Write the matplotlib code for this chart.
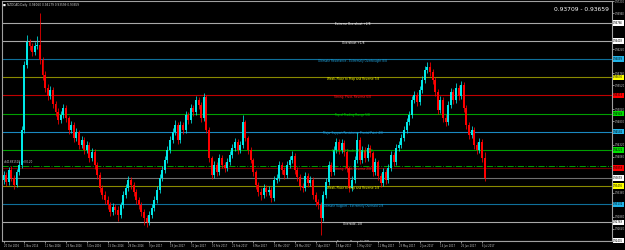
import numpy as np
import matplotlib
matplotlib.use('Agg')
import matplotlib.pyplot as plt
from matplotlib.ticker import FormatStrFormatter

# NZDCAD daily candles, 20 Oct 2016 .. 7 Jul 2017
closes = [
    .9372, .9358, .9382, .9366, .9352, .9378, .9392, .9462, .9592, .9638,
    .9630, .9618, .9630, .9632, .9602, .9572, .9546, .9530, .9542, .9514,
    .9498, .9482, .9492, .9506, .9486, .9462, .9472, .9446, .9458, .9432,
    .9442, .9422, .9432, .9406, .9418, .9392, .9372, .9346, .9332, .9322,
    .9312, .9298, .9308, .9302, .9292, .9312, .9332, .9346, .9362, .9352,
    .9338, .9322, .9312, .9298, .9286, .9278, .9292, .9306, .9322, .9342,
    .9366, .9382, .9402, .9422, .9442, .9458, .9472, .9442, .9472, .9462,
    .9492, .9482, .9506, .9498, .9522, .9512, .9486, .9528, .9462, .9406,
    .9372, .9392, .9378, .9406, .9392, .9386, .9398, .9412, .9426, .9438,
    .9422, .9432, .9478, .9446, .9422, .9402, .9378, .9352, .9338, .9332,
    .9346, .9338, .9342, .9326, .9362, .9366, .9392, .9382, .9372, .9392,
    .9402, .9410, .9382, .9368, .9350, .9346, .9370, .9356, .9362, .9332,
    .9318, .9312, .9286, .9332, .9358, .9392, .9378, .9422, .9438, .9422,
    .9436, .9418, .9386, .9346, .9362, .9402, .9442, .9402, .9422, .9406,
    .9426, .9416, .9378, .9398, .9370, .9356, .9378, .9362, .9386, .9412,
    .9398, .9426, .9432, .9446, .9462, .9478, .9492, .9522, .9532, .9518,
    .9542, .9562, .9582, .9588, .9578, .9562, .9538, .9502, .9522, .9486,
    .9478, .9512, .9538, .9522, .9546, .9530, .9552, .9506, .9472, .9452,
    .9462, .9432, .9422, .9438, .9406, .93659,
]
opens = [
    .9362, .9372, .9358, .9382, .9366, .9352, .9378, .9392, .9462, .9592,
    .9638, .9630, .9618, .9630, .9632, .9602, .9572, .9546, .9530, .9542,
    .9514, .9498, .9482, .9492, .9506, .9486, .9462, .9472, .9446, .9458,
    .9432, .9442, .9422, .9432, .9406, .9418, .9392, .9372, .9346, .9332,
    .9322, .9312, .9298, .9308, .9302, .9292, .9312, .9332, .9346, .9362,
    .9352, .9338, .9322, .9312, .9298, .9286, .9278, .9292, .9306, .9322,
    .9342, .9366, .9382, .9402, .9422, .9442, .9458, .9472, .9442, .9472,
    .9462, .9492, .9482, .9506, .9498, .9522, .9512, .9486, .9528, .9462,
    .9406, .9372, .9392, .9378, .9406, .9392, .9386, .9398, .9412, .9426,
    .9438, .9422, .9432, .9478, .9446, .9422, .9402, .9378, .9352, .9338,
    .9332, .9346, .9338, .9342, .9326, .9362, .9366, .9392, .9382, .9372,
    .9392, .9402, .9410, .9382, .9368, .9350, .9346, .9370, .9356, .9362,
    .9332, .9318, .9312, .9286, .9332, .9358, .9392, .9378, .9422, .9438,
    .9422, .9436, .9418, .9386, .9346, .9362, .9402, .9442, .9402, .9422,
    .9406, .9426, .9416, .9378, .9398, .9370, .9356, .9378, .9362, .9386,
    .9412, .9398, .9426, .9432, .9446, .9462, .9478, .9492, .9522, .9532,
    .9518, .9542, .9562, .9582, .9588, .9578, .9562, .9538, .9502, .9522,
    .9486, .9478, .9512, .9538, .9522, .9546, .9530, .9552, .9506, .9472,
    .9452, .9462, .9432, .9422, .9438, .9406,
]
highs = [
    .9380, .9378, .9388, .9390, .9372, .9384, .9400, .9470, .9600, .9652,
    .9644, .9636, .9638, .9650, .9696, .9608, .9580, .9554, .9550, .9548,
    .9520, .9506, .9500, .9514, .9512, .9490, .9480, .9478, .9466, .9462,
    .9450, .9448, .9440, .9438, .9426, .9424, .9398, .9378, .9352, .9340,
    .9330, .9318, .9316, .9314, .9310, .9318, .9340, .9354, .9370, .9368,
    .9358, .9344, .9328, .9318, .9304, .9292, .9300, .9314, .9330, .9350,
    .9374, .9390, .9410, .9430, .9450, .9466, .9482, .9478, .9480, .9478,
    .9500, .9498, .9514, .9512, .9530, .9528, .9518, .9536, .9532, .9468,
    .9410, .9400, .9398, .9414, .9412, .9398, .9406, .9420, .9434, .9446,
    .9444, .9440, .9492, .9482, .9450, .9428, .9406, .9382, .9358, .9346,
    .9354, .9352, .9350, .9348, .9370, .9374, .9400, .9398, .9388, .9400,
    .9410, .9420, .9416, .9388, .9374, .9356, .9378, .9376, .9370, .9368,
    .9338, .9324, .9318, .9340, .9366, .9400, .9398, .9430, .9446, .9444,
    .9444, .9442, .9422, .9390, .9370, .9410, .9458, .9448, .9430, .9428,
    .9434, .9432, .9420, .9406, .9402, .9376, .9386, .9384, .9394, .9420,
    .9418, .9434, .9440, .9454, .9470, .9486, .9500, .9530, .9540, .9538,
    .9550, .9570, .9590, .9598, .9598, .9584, .9568, .9544, .9530, .9528,
    .9494, .9520, .9546, .9544, .9556, .9552, .9560, .9558, .9512, .9478,
    .9470, .9468, .9438, .9446, .9444, .94179,
]
lows = [
    .9354, .9350, .9352, .9360, .9344, .9348, .9372, .9386, .9456, .9586,
    .9622, .9610, .9612, .9624, .9594, .9562, .9538, .9522, .9524, .9506,
    .9490, .9474, .9476, .9486, .9478, .9454, .9456, .9438, .9440, .9424,
    .9426, .9414, .9416, .9398, .9400, .9384, .9364, .9338, .9324, .9314,
    .9304, .9290, .9292, .9294, .9280, .9286, .9306, .9326, .9340, .9344,
    .9330, .9314, .9304, .9290, .9272, .9268, .9272, .9286, .9300, .9316,
    .9336, .9360, .9376, .9396, .9416, .9436, .9452, .9434, .9436, .9454,
    .9456, .9474, .9476, .9490, .9492, .9504, .9478, .9480, .9456, .9398,
    .9364, .9366, .9370, .9372, .9386, .9378, .9380, .9392, .9406, .9420,
    .9414, .9416, .9426, .9440, .9414, .9396, .9370, .9344, .9330, .9322,
    .9326, .9330, .9332, .9318, .9320, .9356, .9360, .9374, .9364, .9366,
    .9386, .9396, .9374, .9360, .9342, .9338, .9340, .9348, .9350, .9324,
    .9310, .9304, .9252, .9280, .9326, .9352, .9370, .9372, .9416, .9414,
    .9416, .9410, .9378, .9338, .9340, .9356, .9396, .9394, .9396, .9398,
    .9400, .9408, .9370, .9372, .9362, .9348, .9350, .9354, .9356, .9380,
    .9390, .9392, .9420, .9426, .9440, .9456, .9472, .9486, .9516, .9510,
    .9512, .9536, .9556, .9576, .9570, .9554, .9530, .9494, .9496, .9478,
    .9470, .9472, .9506, .9514, .9516, .9522, .9524, .9498, .9464, .9444,
    .9446, .9424, .9414, .9416, .9398, .93599,
]
date_labels = [
    '20 Oct 2016', '1 Nov 2016', '11 Nov 2016', '23 Nov 2016', '5 Dec 2016',
    '15 Dec 2016', '28 Dec 2016', '9 Jan 2017', '19 Jan 2017', '31 Jan 2017',
    '10 Feb 2017', '22 Feb 2017', '6 Mar 2017', '16 Mar 2017', '28 Mar 2017',
    '7 Apr 2017', '19 Apr 2017', '1 May 2017', '11 May 2017', '23 May 2017',
    '2 Jun 2017', '14 Jun 2017', '26 Jun 2017', '6 Jul 2017',
]

# Murrey math levels, -2/8 .. +2/8
levels = [0.92405, 0.92769, 0.93132, 0.93496, 0.93859, 0.94222, 0.94586,
          0.94949, 0.95313, 0.95676, 0.96039, 0.96403, 0.96766]
level_names = [
    'Extreme Oversold -2/8', 'Oversold -1/8',
    'Ultimate Support - Extremely Oversold 0/8',
    'Weak, Place to Stop and Reverse 1/8', 'Strong, Pivot, Reverse 2/8',
    'Bottom of Trading Range 3/8', 'Major Support/Resistance Pivotal Point 4/8',
    'Top of Trading Range 5/8', 'Strong, Pivot, Reverse 6/8',
    'Weak, Place to Stop and Reverse 7/8',
    'Ultimate Resistance - Extremely Overbought 8/8',
    'Overshoot +1/8', 'Extreme Overshoot +2/8',
]
line_colors = ['#a8a8a8', '#a8a8a8', '#0f6f9a', '#8a8a00', '#6a0000', '#00a000',
               '#1a88c0', '#00a000', '#c00000', '#8a8a00', '#0f6f9a',
               '#a8a8a8', '#a8a8a8']
text_colors = ['#ffffff', '#ffffff', '#1fa0d8', '#ffff00', '#ff2020', '#00d000',
               '#1fa0d8', '#00d000', '#ff2020', '#ffff00', '#1fa0d8',
               '#ffffff', '#ffffff']
box_colors = ['#ffffff', '#ffffff', '#20b4e8', '#ffff00', '#ff0000', '#00e000',
              '#20b4e8', '#00e000', '#ff0000', '#ffff00', '#20b4e8',
              '#ffffff', '#ffffff']

bid = 0.93659
ask = 0.93709
order_price = 0.93900

o = np.array(opens)
c = np.array(closes)
h = np.array(highs)
l = np.array(lows)
x = np.arange(len(c))
up = c >= o

fig = plt.figure(figsize=(6.25, 2.5), dpi=100, facecolor='black')
ax = fig.add_axes([2 / 625, 9 / 250, 610 / 625, 240 / 250], facecolor='black')

# level lines + their captions
for lv, name, lc, tc in zip(levels, level_names, line_colors, text_colors):
    ax.axhline(lv, color=lc, lw=0.8, zorder=1)
    ax.text(0.575, lv + 0.0001, name, transform=ax.get_yaxis_transform(),
            color=tc, fontsize=2.1, ha='center', va='top', zorder=4,
            clip_on=True)

ax.axhline(bid, color='#707070', lw=0.8, zorder=1)
ax.axhline(order_price, color='#00a000', lw=0.7, ls='-.', zorder=1)
ax.text(0.004, order_price + 0.0003, '#41681510 sell 0.20',
        transform=ax.get_yaxis_transform(), color='#c8c8c8', fontsize=2.0,
        va='bottom', ha='left')

# candles
col = np.where(up, '#00e8e8', '#ff0000')
ax.vlines(x, l, h, colors=col, lw=0.55, zorder=2)
ax.bar(x, np.maximum(np.abs(c - o), 0.00008), bottom=np.minimum(o, c),
       width=0.72, color=col, linewidth=0, zorder=3)

ax.set_xlim(-0.6, 234.0)
ax.set_ylim(0.92395, 0.97205)

# axes styling
for s in ax.spines.values():
    s.set_color('#a0a0a0')
    s.set_linewidth(0.8)

# regular price ticks, hidden where a level tag sits (as the terminal does)
tags = levels + [bid]
yt = [t for t in np.arange(0.9240, 0.9721, 0.0024)
      if min(abs(t - g) for g in tags) > 0.0008]
ax.yaxis.tick_right()
ax.set_yticks(yt)
ax.yaxis.set_major_formatter(FormatStrFormatter('%.5f'))
ax.tick_params(axis='y', labelsize=1.8, colors='#c8c8c8', length=1.2,
               width=0.5, pad=0.8)
ax.set_xticks(np.arange(0, 8 * len(date_labels), 8))
ax.set_xticklabels(date_labels, ha='left')
ax.tick_params(axis='x', labelsize=1.8, colors='#c8c8c8', length=1.2,
               width=0.5, pad=0.8)

# highlighted price tags on the right scale
for lv, bc in zip(levels, box_colors):
    ax.text(1.002, lv, f'{lv:.5f}', transform=ax.get_yaxis_transform(),
            fontsize=1.8, color='black', va='center', ha='left', clip_on=False,
            bbox=dict(facecolor=bc, edgecolor='none', pad=0.5), zorder=6)
ax.text(1.002, bid, f'{bid:.5f}', transform=ax.get_yaxis_transform(),
        fontsize=1.8, color='black', va='center', ha='left', clip_on=False,
        bbox=dict(facecolor='#ffffff', edgecolor='none', pad=0.5), zorder=6)

# header texts
ax.text(0.002, 0.985, '\u25a0', transform=ax.transAxes, color='white',
        fontsize=2.2, va='center', ha='left')
ax.text(0.009, 0.985,
        f'NZDCAD,Daily  {opens[-1]:.5f} {highs[-1]:.5f} {lows[-1]:.5f} {closes[-1]:.5f}',
        transform=ax.transAxes, color='#d0d0d0', fontsize=2.1, va='center',
        ha='left')
ax.text(0.995, 0.965, f'{ask:.5f} - {bid:.5f}', transform=ax.transAxes,
        color='white', fontsize=4.3, va='center', ha='right')

fig.savefig('out.png', dpi=100, facecolor='black')
